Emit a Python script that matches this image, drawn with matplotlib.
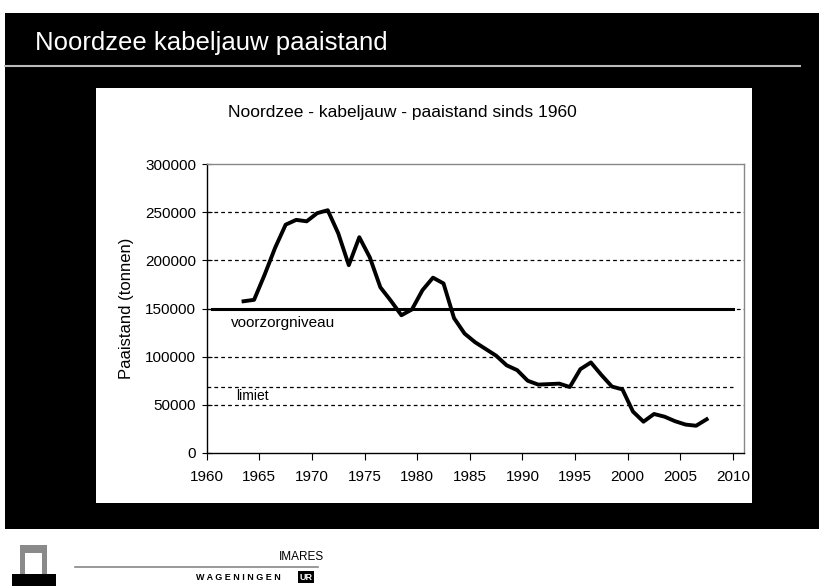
import numpy as np
import matplotlib
matplotlib.use("Agg")
import matplotlib.pyplot as plt
from matplotlib.patches import Rectangle, Polygon
from matplotlib.lines import Line2D

plt.rcParams['font.family'] = ['Liberation Sans', 'DejaVu Sans']

# Paaistand (tonnen) per jaar
jaren = np.arange(1963, 2008)
paaistand = [157500, 159000, 185000, 213000, 237000, 242000, 240500, 249000,
             252000, 228000, 195000, 224000, 203000, 172000, 158000, 143000,
             149000, 169000, 182000, 176000, 140000, 124000, 115000, 108000,
             101000, 91000, 86000, 75000, 71000, 71500, 72000, 68500,
             87000, 94000, 81000, 69000, 66000, 43000, 32500, 40500,
             37700, 33000, 29500, 28300, 35000]

# Referentieniveaus
voorzorg_jaren = [1960.5, 2010]
voorzorgniveau = [150000, 150000]
limiet_jaren = [1960, 2010]
limiet = [68000, 68000]

x_ticks = np.arange(1960, 2011, 5)
y_ticks = np.arange(0, 300001, 50000)

W, H = 820, 586
def fx(px):
    return px / W
def fy(py):
    return 1 - py / H

fig = plt.figure(figsize=(8.2, 5.86), dpi=100, facecolor='white')

# zwarte dia-achtergrond
fig.patches.append(Rectangle((fx(5), fy(529)), fx(820) - fx(5), fy(13) - fy(529),
                             transform=fig.transFigure, facecolor='black',
                             edgecolor='none', zorder=0))
fig.text(fx(35), fy(43), 'Noordzee kabeljauw paaistand', color='white',
         fontsize=18.5, va='center', ha='left')
fig.lines.append(Line2D([fx(5), fx(800)], [fy(66), fy(66)], transform=fig.transFigure,
                        color='#bbbbbb', lw=1.5))

# wit grafiekpaneel
fig.patches.append(Rectangle((fx(96), fy(503)), fx(752) - fx(96), fy(88) - fy(503),
                             transform=fig.transFigure, facecolor='white',
                             edgecolor='none', zorder=1))

ax = fig.add_axes([fx(206.7), fy(453), fx(744) - fx(206.7), fy(164) - fy(453)])
ax.set_zorder(2)
ax.set_facecolor('white')

# rasterlijnen
for yv in y_ticks[1:-1]:
    ax.axhline(yv, color='black', lw=0.9, linestyle=(0, (3, 2.5)), zorder=1)

ax.plot(limiet_jaren, limiet, color='black', lw=0.9, linestyle=(0, (3, 2.5)), zorder=2)
ax.plot(voorzorg_jaren, voorzorgniveau, color='black', lw=2.2, zorder=3)
ax.plot(jaren + 0.5, paaistand, color='black', lw=2.8, zorder=4)

ax.text(1962.3, 135000, 'voorzorgniveau', fontsize=11, va='center', ha='left')
ax.text(1962.8, 59000, 'limiet', fontsize=10, va='center', ha='left')

ax.set_xlim(1960, 2011.05)
ax.set_ylim(0, 300000)
ax.set_xticks(x_ticks)
ax.set_yticks(y_ticks)
ax.set_yticklabels([str(v) for v in y_ticks])
ax.tick_params(axis='x', direction='out', length=5, labelsize=11, pad=7)
ax.tick_params(axis='y', direction='inout', length=7, labelsize=11, pad=4)
ax.set_ylabel('Paaistand (tonnen)', fontsize=12, labelpad=8)

for s in ['left', 'bottom']:
    ax.spines[s].set_color('black')
    ax.spines[s].set_linewidth(1.0)
for s in ['top', 'right']:
    ax.spines[s].set_color('#888888')
    ax.spines[s].set_linewidth(1.0)

fig.text(fx(402), fy(113), 'Noordzee - kabeljauw - paaistand sinds 1960',
         fontsize=12.5, ha='center', va='center', zorder=3)

# logo onderaan
fig.patches.append(Polygon([[fx(20), fy(575)], [fx(20), fy(545)], [fx(47), fy(545)],
                            [fx(47), fy(575)], [fx(42), fy(575)], [fx(42), fy(553)],
                            [fx(25), fy(553)], [fx(25), fy(575)]],
                           closed=True, transform=fig.transFigure,
                           facecolor='#8a8a8a', edgecolor='none'))
fig.patches.append(Rectangle((fx(12), fy(586)), fx(44), fy(574) - fy(586),
                             transform=fig.transFigure, facecolor='black', edgecolor='none'))
fig.lines.append(Line2D([fx(75), fx(318)], [fy(567), fy(567)], transform=fig.transFigure,
                        color='#888888', lw=1.2))
fig.text(fx(324), fy(557), 'IMARES', fontsize=8.5, ha='right', va='center')
fig.text(fx(196), fy(577), 'W A G E N I N G E N', fontsize=6.5, ha='left', va='center',
         fontweight='bold')
fig.text(fx(306), fy(577), 'UR', fontsize=6.5, ha='center', va='center', color='white',
         fontweight='bold', bbox=dict(facecolor='black', edgecolor='none', pad=1.2))

fig.savefig('out.png', dpi=100, facecolor='white')
